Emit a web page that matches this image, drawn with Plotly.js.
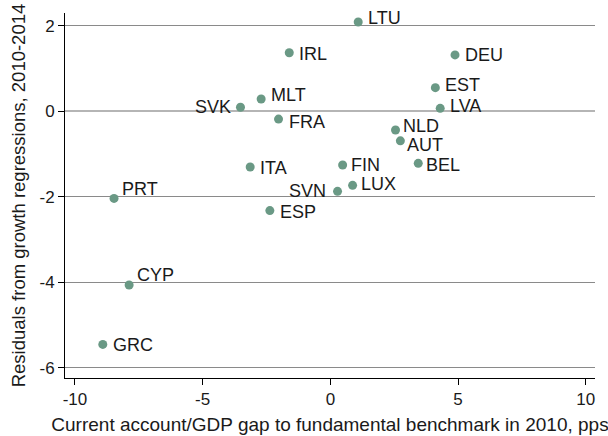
<!DOCTYPE html>
<html>
<head>
<meta charset="utf-8">
<script src="https://cdn.plot.ly/plotly-3.0.1.min.js"></script>
<style>html,body{margin:0;padding:0;background:#fff;}#chart{width:608px;height:436px;}</style>
</head>
<body>
<div id="chart"></div>
<script>
// Data
var countries = ["LTU","IRL","DEU","EST","MLT","SVK","LVA","FRA","NLD","AUT","ITA","FIN","BEL","LUX","SVN","ESP","PRT","CYP","GRC"];
var caGap     = [1.09, -1.61, 4.88, 4.11, -2.71, -3.52, 4.30, -2.03, 2.55, 2.74, -3.14, 0.48, 3.44, 0.87, 0.28, -2.37, -8.47, -7.88, -8.91];
var residuals = [2.09, 1.37, 1.32, 0.555, 0.29, 0.096, 0.07, -0.18, -0.435, -0.69, -1.30, -1.255, -1.215, -1.73, -1.87, -2.32, -2.035, -4.06, -5.45];
var xTicks = [-10, -5, 0, 5, 10];
var yTicks = [-6, -4, -2, 0, 2];

// label placement in pixels (style, not data): [dx, dy-up]; negative dx = label on the left
var labelShift = {
  LTU:[8,5], IRL:[8,0], DEU:[8,1], EST:[8,4], MLT:[8,5], SVK:[-7,1], LVA:[8,3],
  FRA:[8,-2], NLD:[5,5], AUT:[5,-3], ITA:[8,0], FIN:[6,1], BEL:[6,-1], LUX:[6,2],
  SVN:[-10,1], ESP:[8,0], PRT:[6,10], CYP:[6,11], GRC:[8,0]
};

var font = "Liberation Sans, Arial, Helvetica, sans-serif";
var textColor = "#1a1a1a";

var annotations = countries.map(function(c, i){
  var s = labelShift[c];
  return {
    x: caGap[i], y: residuals[i], xref: "x", yref: "y",
    text: c, showarrow: false,
    xanchor: s[0] < 0 ? "right" : "left", yanchor: "middle",
    xshift: s[0], yshift: s[1] - 1,
    font: {family: font, size: 18, color: textColor}
  };
});

var trace = {
  x: caGap, y: residuals, text: countries,
  type: "scatter", mode: "markers",
  marker: {color: "#6a9985", size: 9, line: {width: 0}},
  hoverinfo: "x+y+text", cliponaxis: false
};

var layout = {
  width: 608, height: 436,
  margin: {l: 65, r: 13, t: 13, b: 58},
  paper_bgcolor: "#fff", plot_bgcolor: "#fff",
  showlegend: false,
  font: {family: font, size: 17, color: textColor},
  annotations: annotations,
  xaxis: {
    range: [-10.39, 10.36],
    tickvals: xTicks, ticktext: xTicks.map(String),
    ticks: "outside", ticklen: 6, tickcolor: "#000", tickwidth: 1,
    showgrid: false, zeroline: false,
    showline: true, linecolor: "#000", linewidth: 1,
    tickfont: {family: font, size: 17, color: textColor},
    title: {text: "Current account/GDP gap to fundamental benchmark in 2010, pps", font: {family: font, size: 19, color: textColor}, standoff: 9}
  },
  yaxis: {
    range: [-6.235, 2.30],
    tickvals: yTicks, ticktext: yTicks.map(String),
    ticks: "outside", ticklen: 6, tickcolor: "#000", tickwidth: 1,
    showgrid: true, gridcolor: "#8a8a8a", gridwidth: 1,
    zeroline: true, zerolinecolor: "#b5b5b5", zerolinewidth: 2,
    showline: true, linecolor: "#000", linewidth: 1,
    tickfont: {family: font, size: 17, color: textColor},
    title: {text: "Residuals from growth regressions, 2010-2014", font: {family: font, size: 18.5, color: textColor}, standoff: 8}
  }
};

Plotly.newPlot("chart", [trace], layout, {displayModeBar: false, staticPlot: true});
</script>
</body>
</html>
